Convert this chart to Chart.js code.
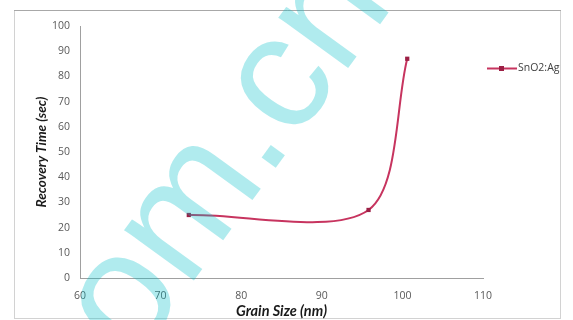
<!DOCTYPE html>
<html>
<head>
<meta charset="utf-8">
<script src="https://cdn.jsdelivr.net/npm/chart.js@4/dist/chart.umd.min.js"></script>
<style>
  html, body { margin: 0; padding: 0; background: #fff; }
  canvas { display: block; }
</style>
</head>
<body>
<canvas id="chart" width="573" height="320"></canvas>
<script>
// Recovery time of the SnO2:Ag sensor against grain size
const seriesName = 'SnO2:Ag';
const grainSize = [73.5, 95.8, 100.6];      // nm
const recoveryTime = [25, 27, 87];          // sec
const xTickValues = [60, 70, 80, 90, 100, 110];
const yTickValues = [0, 10, 20, 30, 40, 50, 60, 70, 80, 90, 100];
const xTitle = 'Grain Size (nm)';
const yTitle = 'Recovery Time (sec)';
const stampText = 'om.cn';

const lineColor = '#c7345f';
const markerColor = '#9c1f45';
const tickColor = '#595959';
const axisColor = '#a0a0a0';
const tickFont = '"Open Sans", Lato, sans-serif';
const titleFont = 'Lato, "Open Sans", sans-serif';

const points = grainSize.map((x, i) => ({ x: x, y: recoveryTime[i] }));

// white page with the thin frame around the chart
const framePlugin = {
  id: 'frame',
  beforeDraw(chart) {
    const ctx = chart.ctx;
    ctx.save();
    ctx.fillStyle = '#ffffff';
    ctx.fillRect(0, 0, chart.width, chart.height);
    ctx.strokeStyle = '#d2d2d2';
    ctx.lineWidth = 1;
    ctx.strokeRect(14.5, 10.5, 546, 308);
    ctx.strokeStyle = '#a8a8a8';
    ctx.beginPath();
    ctx.moveTo(14, 10.5);
    ctx.lineTo(561, 10.5);
    ctx.stroke();
    ctx.restore();
  }
};

// legend entry on the right of the plot
const legendPlugin = {
  id: 'sideLegend',
  afterDatasetsDraw(chart) {
    const ctx = chart.ctx;
    const y = 68.5;
    ctx.save();
    ctx.strokeStyle = lineColor;
    ctx.lineWidth = 2;
    ctx.beginPath();
    ctx.moveTo(487, y);
    ctx.lineTo(517, y);
    ctx.stroke();
    ctx.fillStyle = markerColor;
    ctx.fillRect(499, y - 2.5, 5, 5);
    ctx.fillStyle = '#404040';
    ctx.font = '10.5px ' + tickFont;
    ctx.textBaseline = 'middle';
    ctx.textAlign = 'left';
    ctx.fillText(seriesName, 518, y);
    ctx.restore();
  }
};

// translucent diagonal stamp laid over the figure
const stampPlugin = {
  id: 'stamp',
  afterDraw(chart) {
    const ctx = chart.ctx;
    ctx.save();
    ctx.translate(134, 363);
    ctx.rotate(-54 * Math.PI / 180);
    ctx.fillStyle = 'rgba(0, 190, 200, 0.31)';
    ctx.font = '163px "Liberation Sans", Arial, sans-serif';
    ctx.textBaseline = 'alphabetic';
    ctx.textAlign = 'left';
    ctx.fillText(stampText, 0, 0);
    ctx.restore();
  }
};

new Chart(document.getElementById('chart'), {
  type: 'scatter',
  data: {
    datasets: [{
      label: seriesName,
      data: points,
      showLine: true,
      borderColor: lineColor,
      borderWidth: 2,
      tension: 0.3,
      pointStyle: 'rect',
      pointRadius: 3,
      pointBackgroundColor: markerColor,
      pointBorderColor: markerColor,
      pointBorderWidth: 0
    }]
  },
  options: {
    responsive: false,
    animation: false,
    devicePixelRatio: 1,
    layout: { padding: { left: 14, top: 26, right: 90, bottom: 0 } },
    plugins: {
      legend: { display: false },
      tooltip: { enabled: false }
    },
    scales: {
      x: {
        type: 'linear',
        min: xTickValues[0],
        max: xTickValues[xTickValues.length - 1],
        afterBuildTicks(scale) { scale.ticks = xTickValues.map(v => ({ value: v })); },
        afterFit(scale) { scale.height = 42; },
        grid: { display: false, drawTicks: false },
        border: { display: true, color: axisColor, width: 1 },
        ticks: {
          color: tickColor,
          font: { family: tickFont, size: 10.5 },
          padding: 12
        },
        title: {
          display: true,
          text: xTitle,
          color: '#1a1a1a',
          font: { family: titleFont, size: 14.5, weight: 'bold', style: 'italic' },
          padding: { top: 0, bottom: 0 }
        }
      },
      y: {
        type: 'linear',
        min: yTickValues[0],
        max: yTickValues[yTickValues.length - 1],
        afterBuildTicks(scale) { scale.ticks = yTickValues.map(v => ({ value: v })); },
        afterFit(scale) { scale.width = 66; },
        grid: { display: false, drawTicks: false },
        border: { display: true, color: axisColor, width: 1 },
        ticks: {
          color: tickColor,
          font: { family: tickFont, size: 10.5 },
          padding: 10
        },
        title: {
          display: true,
          text: yTitle,
          color: '#1a1a1a',
          font: { family: titleFont, size: 13.5, weight: 'bold', style: 'italic' },
          padding: { top: 20, bottom: 0 }
        }
      }
    }
  },
  plugins: [framePlugin, legendPlugin, stampPlugin]
});
</script>
</body>
</html>
